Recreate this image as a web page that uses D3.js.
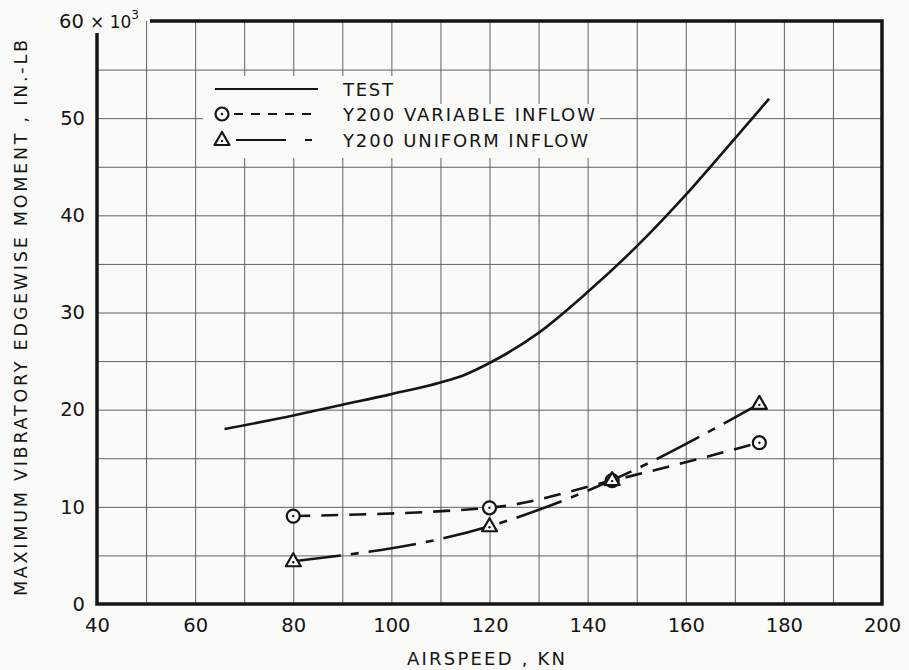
<!DOCTYPE html>
<html>
<head>
<meta charset="utf-8">
<script src="https://cdn.jsdelivr.net/npm/d3@7"></script>
<style>
  body { margin: 0; background: #fafaf8; }
  text { font-family: "DejaVu Sans", sans-serif; fill: #151515; }
</style>
</head>
<body>
<svg id="chart" width="909" height="670"></svg>
<script>
// data
var xTicks = [40, 60, 80, 100, 120, 140, 160, 180, 200];
var yTicks = [0, 10, 20, 30, 40, 50];
var xGrid = [50, 60, 70, 80, 90, 100, 110, 120, 130, 140, 150, 160, 170, 180, 190];
var yGrid = [5, 10, 15, 20, 25, 30, 35, 40, 45, 50, 55];

var testSpeed = [66, 80, 90, 100, 110, 115, 120, 130, 140, 150, 160, 170, 177];
var testMoment = [18.0, 19.4, 20.5, 21.6, 22.8, 23.6, 24.8, 27.9, 32.1, 36.8, 42.1, 47.9, 52.0];

var calcSpeed = [80, 120, 145, 175];
var variableMoment = [9.05, 9.9, 12.7, 16.6];
var uniformMoment = [4.4, 8.0, 12.75, 20.6];

var legendNames = ["TEST", "Y200 VARIABLE INFLOW", "Y200 UNIFORM INFLOW"];

var svg = d3.select("#chart");
var bg = "#fafaf8";
var ink = "#151515";

var x = d3.scaleLinear().domain([40, 200]).range([97, 882]);
var y = d3.scaleLinear().domain([0, 60]).range([604, 21]);

// grid
svg.append("g")
  .attr("transform", "translate(0,604)")
  .call(d3.axisBottom(x).tickValues(xGrid).tickSize(-(604 - 21)).tickFormat(""))
  .call(g => g.select(".domain").remove())
  .selectAll("line").attr("stroke", "#606060").attr("stroke-width", 1);

svg.append("g")
  .attr("transform", "translate(97,0)")
  .call(d3.axisLeft(y).tickValues(yGrid).tickSize(-(882 - 97)).tickFormat(""))
  .call(g => g.select(".domain").remove())
  .selectAll("line").attr("stroke", "#606060").attr("stroke-width", 1);

// blank area behind legend
svg.append("rect").attr("x", 203).attr("y", 76).attr("width", 230).attr("height", 82).attr("fill", bg);
svg.append("rect").attr("x", 430).attr("y", 104).attr("width", 170).attr("height", 54).attr("fill", bg);

// frame
svg.append("path")
  .attr("d", "M150," + y(60) + "H" + x(200) + "V" + y(0) + "H" + x(40) + "V33")
  .attr("fill", "none").attr("stroke", ink).attr("stroke-width", 3.5);

// tick labels
var xAxis = svg.append("g")
  .attr("transform", "translate(0,604)")
  .call(d3.axisBottom(x).tickValues(xTicks).tickSize(0).tickPadding(14));
xAxis.select(".domain").remove();
xAxis.selectAll("text").attr("font-size", 19.5).attr("fill", ink)
  .style("font-family", "DejaVu Sans");

var yAxis = svg.append("g")
  .attr("transform", "translate(97,0)")
  .call(d3.axisLeft(y).tickValues(yTicks).tickSize(0).tickPadding(12));
yAxis.select(".domain").remove();
yAxis.selectAll("text").attr("font-size", 19.5).attr("fill", ink)
  .style("font-family", "DejaVu Sans");

// 60 x 10^3
var top60 = svg.append("text")
  .attr("x", 59).attr("y", y(60) + 7)
  .attr("font-size", 19.5);
top60.append("tspan").text("60 ");
top60.append("tspan").attr("font-size", 17).text("× 10");
top60.append("tspan").attr("font-size", 12).attr("dy", -9).text("3");

// axis titles
svg.append("text")
  .attr("x", 486).attr("y", 665)
  .attr("text-anchor", "middle")
  .attr("font-size", 18)
  .attr("textLength", 158)
  .attr("lengthAdjust", "spacing")
  .text("AIRSPEED , KN");

svg.append("text")
  .attr("transform", "translate(27,318) rotate(-90)")
  .attr("text-anchor", "middle")
  .attr("font-size", 17.5)
  .attr("textLength", 556)
  .attr("lengthAdjust", "spacing")
  .text("MAXIMUM VIBRATORY EDGEWISE MOMENT , IN.-LB");

// curves
var line = d3.line()
  .x(d => x(d[0]))
  .y(d => y(d[1]))
  .curve(d3.curveMonotoneX);

svg.append("path")
  .datum(testSpeed.map((s, i) => [s, testMoment[i]]))
  .attr("d", line)
  .attr("fill", "none").attr("stroke", ink).attr("stroke-width", 2.6);

svg.append("path")
  .datum(calcSpeed.map((s, i) => [s, variableMoment[i]]))
  .attr("d", line)
  .attr("fill", "none").attr("stroke", ink).attr("stroke-width", 2.6)
  .attr("stroke-dasharray", "17,11");

svg.append("path")
  .datum(calcSpeed.map((s, i) => [s, uniformMoment[i]]))
  .attr("d", line)
  .attr("fill", "none").attr("stroke", ink).attr("stroke-width", 2.6)
  .attr("stroke-dasharray", "48,10,8,10");

// markers
function circleMark(g, cx, cy) {
  g.append("circle").attr("cx", cx).attr("cy", cy).attr("r", 6.5)
    .attr("fill", bg).attr("stroke", ink).attr("stroke-width", 2.2);
  g.append("circle").attr("cx", cx).attr("cy", cy).attr("r", 1.2).attr("fill", ink);
}
function triMark(g, cx, cy) {
  g.append("path")
    .attr("d", "M" + cx + "," + (cy - 8) + "L" + (cx + 7.5) + "," + (cy + 5) + "L" + (cx - 7.5) + "," + (cy + 5) + "Z")
    .attr("fill", bg).attr("stroke", ink).attr("stroke-width", 2.2).attr("stroke-linejoin", "round");
  g.append("circle").attr("cx", cx).attr("cy", cy + 1).attr("r", 1.2).attr("fill", ink);
}

var marks = svg.append("g");
calcSpeed.forEach((s, i) => circleMark(marks, x(s), y(variableMoment[i])));
calcSpeed.forEach((s, i) => triMark(marks, x(s), y(uniformMoment[i])));

// legend
var legend = svg.append("g");
var rowY = [89, 114, 140];
legend.append("line").attr("x1", 215).attr("x2", 318).attr("y1", rowY[0]).attr("y2", rowY[0])
  .attr("stroke", ink).attr("stroke-width", 2);
legend.append("line").attr("x1", 234).attr("x2", 318).attr("y1", rowY[1]).attr("y2", rowY[1])
  .attr("stroke", ink).attr("stroke-width", 2).attr("stroke-dasharray", "9,8");
legend.append("line").attr("x1", 236).attr("x2", 312).attr("y1", rowY[2]).attr("y2", rowY[2])
  .attr("stroke", ink).attr("stroke-width", 2).attr("stroke-dasharray", "50,19,7,30");
circleMark(legend, 222, rowY[1]);
triMark(legend, 222, rowY[2]);

var legendWidths = [50, 252, 245];
legend.selectAll("text.leg")
  .data(legendNames)
  .enter().append("text")
  .attr("class", "leg")
  .attr("x", 343)
  .attr("y", (d, i) => rowY[i] + 6.5)
  .attr("font-size", 18)
  .attr("textLength", (d, i) => legendWidths[i])
  .attr("lengthAdjust", "spacing")
  .text(d => d);
</script>
</body>
</html>
